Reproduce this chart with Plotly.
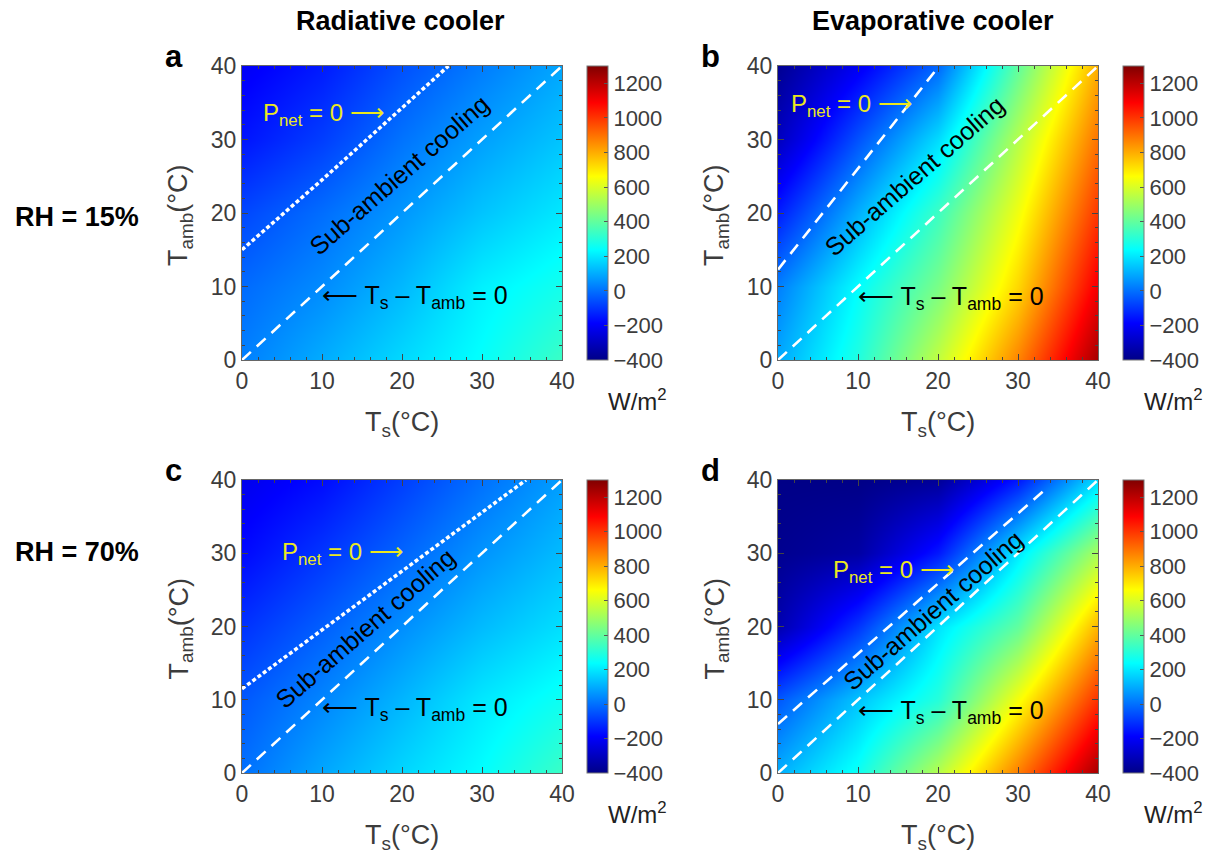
import plotly.graph_objects as go

# ---------------- data ----------------
ts_grid = [0, 10, 20, 30, 40]          # T_s (°C)
tamb_grid = [0, 10, 20, 30, 40]        # T_amb (°C)

# rows: T_amb = 0,10,20,30,40 ; columns: T_s = 0,10,20,30,40  (W/m^2)
z_a = [[25, 100, 175, 245, 335],
       [-10, 45, 120, 215, 270],
       [-70, -5, 65, 140, 200],
       [-155, -85, 5, 80, 140],
       [-205, -145, -55, 20, 90]]
z_b = [[95, 290, 560, 870, 1240],
       [25, 238, 440, 730, 1110],
       [-140, 105, 338, 640, 1000],
       [-300, -50, 180, 540, 900],
       [-380, -210, -15, 400, 800]]
z_c = [[0, 90, 170, 240, 335],
       [-40, 35, 115, 200, 260],
       [-105, -30, 50, 125, 185],
       [-175, -100, -20, 60, 125],
       [-220, -170, -85, 0, 75]]
z_d = [[105, 260, 540, 880, 1240],
       [-40, 140, 300, 650, 1010],
       [-330, -100, 190, 400, 790],
       [-385, -350, -150, 200, 520],
       [-400, -400, -370, -150, 180]]

# P_net = 0 boundaries
pnet_a_ts = [0, 10, 20, 25.8]
pnet_a_tamb = [15, 24.5, 34.3, 40]
pnet_b_ts = [0, 20]
pnet_b_tamb = [12.3, 39.8]
pnet_c_ts = [0, 35.5]
pnet_c_tamb = [11.5, 40]
pnet_d_ts = [0, 33.3]
pnet_d_tamb = [6.7, 38.6]
# T_s - T_amb = 0 line
diag_ts = [0, 40]
diag_tamb = [0, 40]

cbar_ticks = [-400, -200, 0, 200, 400, 600, 800, 1000, 1200]
axis_ticks = [0, 10, 20, 30, 40]

# ---------------- styling ----------------
W, H = 1210, 856
FONT = "Liberation Sans, Arial, Helvetica, sans-serif"
TICKC = "#3c3c3c"
jet = [[0.0, "rgb(0,0,135)"], [0.125, "rgb(0,0,255)"], [0.375, "rgb(0,255,255)"],
       [0.625, "rgb(255,255,0)"], [0.875, "rgb(255,0,0)"], [1.0, "rgb(128,0,0)"]]


def px(x):
    return x / W


def py(y):
    return 1 - y / H


panels = [
    dict(z=z_a, px_=pnet_a_ts, py_=pnet_a_tamb, dot=True, box=(242, 562, 66, 360), cb=587,
         pnet_txt=(10.2, 33.4), sub_txt=(19.6, 25.2), dz_txt=(21.6, 8.6), letter="a"),
    dict(z=z_b, px_=pnet_b_ts, py_=pnet_b_tamb, dot=False, box=(778, 1098, 66, 360), cb=1123,
         pnet_txt=(9.2, 34.6), sub_txt=(17.0, 25.1), dz_txt=(21.6, 8.4), letter="b"),
    dict(z=z_c, px_=pnet_c_ts, py_=pnet_c_tamb, dot=True, box=(242, 562, 480, 773), cb=587,
         pnet_txt=(12.5, 30.0), sub_txt=(15.4, 19.8), dz_txt=(21.6, 8.8), letter="c"),
    dict(z=z_d, px_=pnet_d_ts, py_=pnet_d_tamb, dot=False, box=(778, 1098, 480, 773), cb=1123,
         pnet_txt=(14.4, 27.5), sub_txt=(19.4, 22.2), dz_txt=(21.6, 8.3), letter="d"),
]

fig = go.Figure()
annotations = []
layout_axes = {}


def note(**kw):
    kw.setdefault("showarrow", False)
    kw.setdefault("xanchor", "center")
    kw.setdefault("yanchor", "middle")
    annotations.append(kw)


for i, p in enumerate(panels, start=1):
    xa = "x" if i == 1 else f"x{i}"
    ya = "y" if i == 1 else f"y{i}"
    l, r, t, b = p["box"]
    fig.add_trace(go.Heatmap(
        x=ts_grid, y=tamb_grid, z=p["z"], xaxis=xa, yaxis=ya,
        zmin=-400, zmax=1300, colorscale=jet, zsmooth="best",
        hoverinfo="skip",
        colorbar=dict(
            x=px(p["cb"]), xanchor="left", xpad=0, ypad=0,
            y=py(b), yanchor="bottom", len=(b - t) / H, lenmode="fraction",
            thickness=21, thicknessmode="pixels",
            outlinewidth=1, outlinecolor="#777",
            tickvals=cbar_ticks, ticks="inside", ticklen=4, tickcolor="#555",
            tickfont=dict(family=FONT, size=22, color=TICKC),
        ),
    ))
    fig.add_trace(go.Scatter(
        x=p["px_"], y=p["py_"], xaxis=xa, yaxis=ya, mode="lines",
        line=dict(color="white", width=3.5 if p["dot"] else 2.6,
                  dash="4px,2.5px" if p["dot"] else "12px,8px"),
        showlegend=False, hoverinfo="skip"))
    fig.add_trace(go.Scatter(
        x=diag_ts, y=diag_tamb, xaxis=xa, yaxis=ya, mode="lines",
        line=dict(color="white", width=2.6, dash="12px,8px"),
        showlegend=False, hoverinfo="skip"))

    axcommon = dict(range=[0, 40], tickvals=axis_ticks, ticks="inside", ticklen=6,
                    tickcolor="#444", showline=True, linecolor="#666", linewidth=1,
                    mirror="allticks", showgrid=False, zeroline=False,
                    minor=dict(ticks="inside", dtick=2, ticklen=3, tickcolor="#444"),
                    tickfont=dict(family=FONT, size=23, color=TICKC), fixedrange=True)
    layout_axes["xaxis" if i == 1 else f"xaxis{i}"] = dict(
        axcommon, domain=[px(l), px(r)], anchor=ya)
    layout_axes["yaxis" if i == 1 else f"yaxis{i}"] = dict(
        axcommon, domain=[py(b), py(t)], anchor=xa)

    # in-plot texts
    note(x=p["pnet_txt"][0], y=p["pnet_txt"][1], xref=xa, yref=ya,
         text="P<sub>net</sub> = 0 ⟶", font=dict(family=FONT, size=24, color="rgb(235,232,30)"))
    note(x=p["sub_txt"][0], y=p["sub_txt"][1], xref=xa, yref=ya,
         text="Sub-ambient cooling", textangle=-41,
         font=dict(family=FONT, size=25, color="black"))
    note(x=p["dz_txt"][0], y=p["dz_txt"][1], xref=xa, yref=ya,
         text="⟵ T<sub>s</sub> – T<sub>amb</sub> = 0",
         font=dict(family=FONT, size=25, color="black"))

    # axis titles
    cx = (l + r) / 2
    note(x=px(cx), y=py(b + 64), xref="paper", yref="paper",
         text="T<sub>s</sub>(°C)", font=dict(family=FONT, size=27, color=TICKC))
    note(x=px(l - 62), y=py((t + b) / 2 + 2), xref="paper", yref="paper",
         text="T<sub>amb</sub>(°C)", textangle=-90,
         font=dict(family=FONT, size=27, color=TICKC))
    # units
    note(x=px(p["cb"] + 50), y=py(b + 40), xref="paper", yref="paper",
         text="W/m<sup>2</sup>", font=dict(family=FONT, size=24, color="#222"))
    # panel letter
    note(x=px(l - 68), y=py(t - 10), xref="paper", yref="paper",
         text=f"<b>{p['letter']}</b>", font=dict(family=FONT, size=31, color="black"))

# column / row headings
note(x=px(400), y=py(21), xref="paper", yref="paper",
     text="<b>Radiative cooler</b>", font=dict(family=FONT, size=27, color="black"))
note(x=px(933), y=py(21), xref="paper", yref="paper",
     text="<b>Evaporative cooler</b>", font=dict(family=FONT, size=27, color="black"))
note(x=px(77), y=py(217), xref="paper", yref="paper",
     text="<b>RH = 15%</b>", font=dict(family=FONT, size=27, color="black"))
note(x=px(77), y=py(552), xref="paper", yref="paper",
     text="<b>RH = 70%</b>", font=dict(family=FONT, size=27, color="black"))

fig.update_layout(
    width=W, height=H, margin=dict(l=0, r=0, t=0, b=0, autoexpand=False),
    paper_bgcolor="white", plot_bgcolor="white", showlegend=False,
    annotations=annotations, **layout_axes)

fig.write_html("out.html", config={"displayModeBar": False},
               post_script="document.body.style.margin='0';document.body.style.padding='0';"
                           "document.body.style.overflow='hidden';")
